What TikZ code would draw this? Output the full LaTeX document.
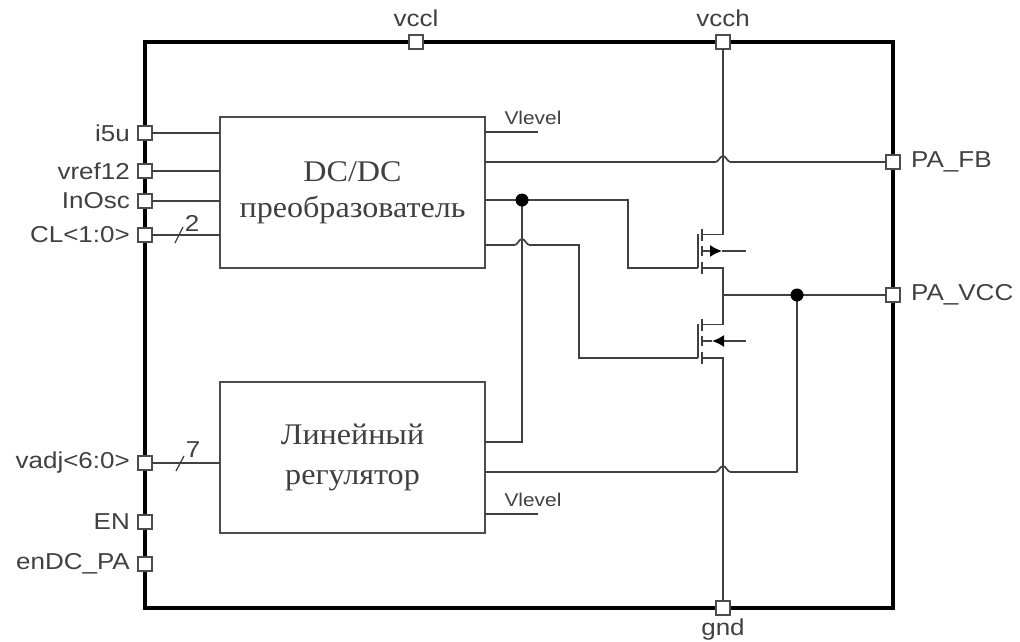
\documentclass[tikz,border=0pt]{standalone}
\usepackage{fontspec}
\setmainfont[FakeStretch=1.13]{Liberation Sans}
\newfontfamily\blockfont[FakeStretch=1.07]{Liberation Serif}
\usepackage{xcolor}
\usepackage{tikz}
\usetikzlibrary{arrows.meta,positioning,calc}

\newcommand{\hopx}[1]{-- ($(#1)+(-7.5,0)$) .. controls +(3,0) and +(-3,0) .. ($(#1)+(0,-6)$) .. controls +(3,0) and +(-3,0) .. ($(#1)+(7.5,0)$)}

\begin{document}
\begin{tikzpicture}[
        x=1pt, y=-1pt,
        font=\fontsize{23}{25}\selectfont,
        text=black!75,
        frame/.style={draw=black, line width=4.5pt, minimum width=748pt, minimum height=566pt, inner sep=0pt, outer sep=0pt},
        port/.style={draw=black!70, fill=white, line width=1.8pt, minimum size=14pt, inner sep=0pt, outer sep=0pt},
        block/.style={draw=black!70, line width=1.5pt, fill=white, inner sep=0pt, outer sep=0pt, align=center, font=\blockfont\fontsize{30}{36}\selectfont},
        wire/.style={draw=black!75, line width=1.7pt},
        level/.style={font=\fontsize{18.5}{20}\selectfont, inner sep=0pt},
        dot/.style={circle, fill=black, minimum size=13pt, inner sep=0pt},
        tag/.style={inner sep=0pt},
        slash/.style={draw=black!75, line width=1.3pt}
    ]
    \useasboundingbox (0,0) rectangle (1020,641);

    % outer frame
    \node[frame] (chip) at (519,325) {};

    % ports on the left side
    \foreach \name/\y/\txt in {i5u/133/i5u, vref/171/vref12, osc/201/InOsc, cl/235/CL<1:0>, vadj/463/vadj<6:0>, en/522/EN, endc/564/enDC\_PA} {
        \node[port, label={[tag, xshift=-8pt]left:\txt}] (p_\name) at (145,\y) {};
    }

    % ports on the other sides
    \node[port, label={[tag, yshift=8pt]above:vccl}] (p_vccl) at (416,42) {};
    \node[port, label={[tag, yshift=8pt]above:vcch}] (p_vcch) at (723,42) {};
    \node[port, label={[tag, yshift=-4pt]below:gnd}] (p_gnd) at (723,608) {};
    \node[port, label={[tag, xshift=11pt]right:PA\_FB}] (p_fb) at (893,162) {};
    \node[port, label={[tag, xshift=11pt]right:PA\_VCC}] (p_vcc) at (893,295) {};

    % blocks
    \node[block, minimum width=265pt, minimum height=151pt] (dcdc) at (352.5,192.5) {DC/DC\\преобразователь};
    \node[block, minimum width=265pt, minimum height=151pt] (reg) at (352.5,457.5) {\raisebox{-2.5pt}{Линейный}\\[4pt]\raisebox{-2.5pt}{регулятор}};

    % inputs
    \foreach \name in {i5u, vref, osc, cl} {
        \draw[wire] (p_\name.east) -- (p_\name -| dcdc.west);
    }
    \draw[wire] (p_vadj.east) -- (p_vadj -| reg.west);

    % bus marks
    \draw[slash] (175,243) -- (183,227);
    \node[tag] (n_cl) at (192,223) {2};
    \draw[slash] (176,471) -- (184,456);
    \node[tag] (n_vadj) at (193,450) {7};

    % Vlevel
    \coordinate (lvl_a) at (538,132);
    \coordinate (lvl_b) at (538,514);
    \draw[wire] (lvl_a -| dcdc.east) -- (lvl_a);
    \draw[wire] (lvl_b -| reg.east) -- (lvl_b);
    \node[level] (t_lvl_a) at (533,118) {Vlevel};
    \node[level] (t_lvl_b) at (533,500) {Vlevel};

    % transistors
    \foreach \fet/\y in {up/251, dn/341} {
        \coordinate (\fet_g) at (698,\y+17);
        \coordinate (\fet_dd) at (702,\y-16.5);
        \coordinate (\fet_ss) at (702,\y+17);
        \coordinate (\fet_d) at (723,\y-16.5);
        \coordinate (\fet_s) at (723,\y+17);
        \coordinate (\fet_b) at (702,\y);
        \coordinate (\fet_e) at (746,\y);
        \draw[wire] (698,\y-17) -- (\fet_g);
        \draw[wire] (702,\y-22) -- (702,\y-10);
        \draw[wire] (702,\y-5) -- (702,\y+5);
        \draw[wire] (702,\y+11) -- (702,\y+23);
    }
    \draw[wire, -{Latex[length=12pt,width=12pt,black]}] (up_b) -- (722,251);
    \draw[wire] (722,251) -- (up_e);
    \draw[wire, -{Latex[length=12pt,width=12pt,black]}] (dn_e) -- (712,341);
    \draw[wire] (712,341) -- (dn_b);

    \draw[wire] (p_vcch.south) -- (up_d) -- (up_dd);
    \draw[wire] (up_ss) -- (up_s) -- (dn_d) -- (dn_dd);
    \draw[wire] (dn_ss) -- (dn_s) -- (p_gnd.north);

    % outputs of the DC/DC block
    \coordinate (hop_fb) at (723,162);
    \coordinate (hop_lo) at (522,245);
    \coordinate (j_top) at (522,200);
    \coordinate (j_vcc) at (797,295);
    \draw[wire] (hop_fb -| dcdc.east) \hopx{hop_fb} -- (p_fb.west);
    \draw[wire] (j_top -| dcdc.east) -- (628,200) |- (up_g);
    \draw[wire] (hop_lo -| dcdc.east) \hopx{hop_lo} -- (579,245) |- (dn_g);

    % outputs of the regulator
    \coordinate (r_top) at (522,442);
    \coordinate (hop_r) at (723,472);
    \draw[wire] (r_top -| reg.east) -- (r_top) -- (j_top);
    \draw[wire] (hop_r -| reg.east) \hopx{hop_r} -- (j_vcc |- hop_r) -- (j_vcc);
    \draw[wire] (j_vcc -| up_s) -- (p_vcc.west);

    % junctions
    \node[dot] (d_top) at (j_top) {};
    \node[dot] (d_vcc) at (j_vcc) {};

\end{tikzpicture}
\end{document}
